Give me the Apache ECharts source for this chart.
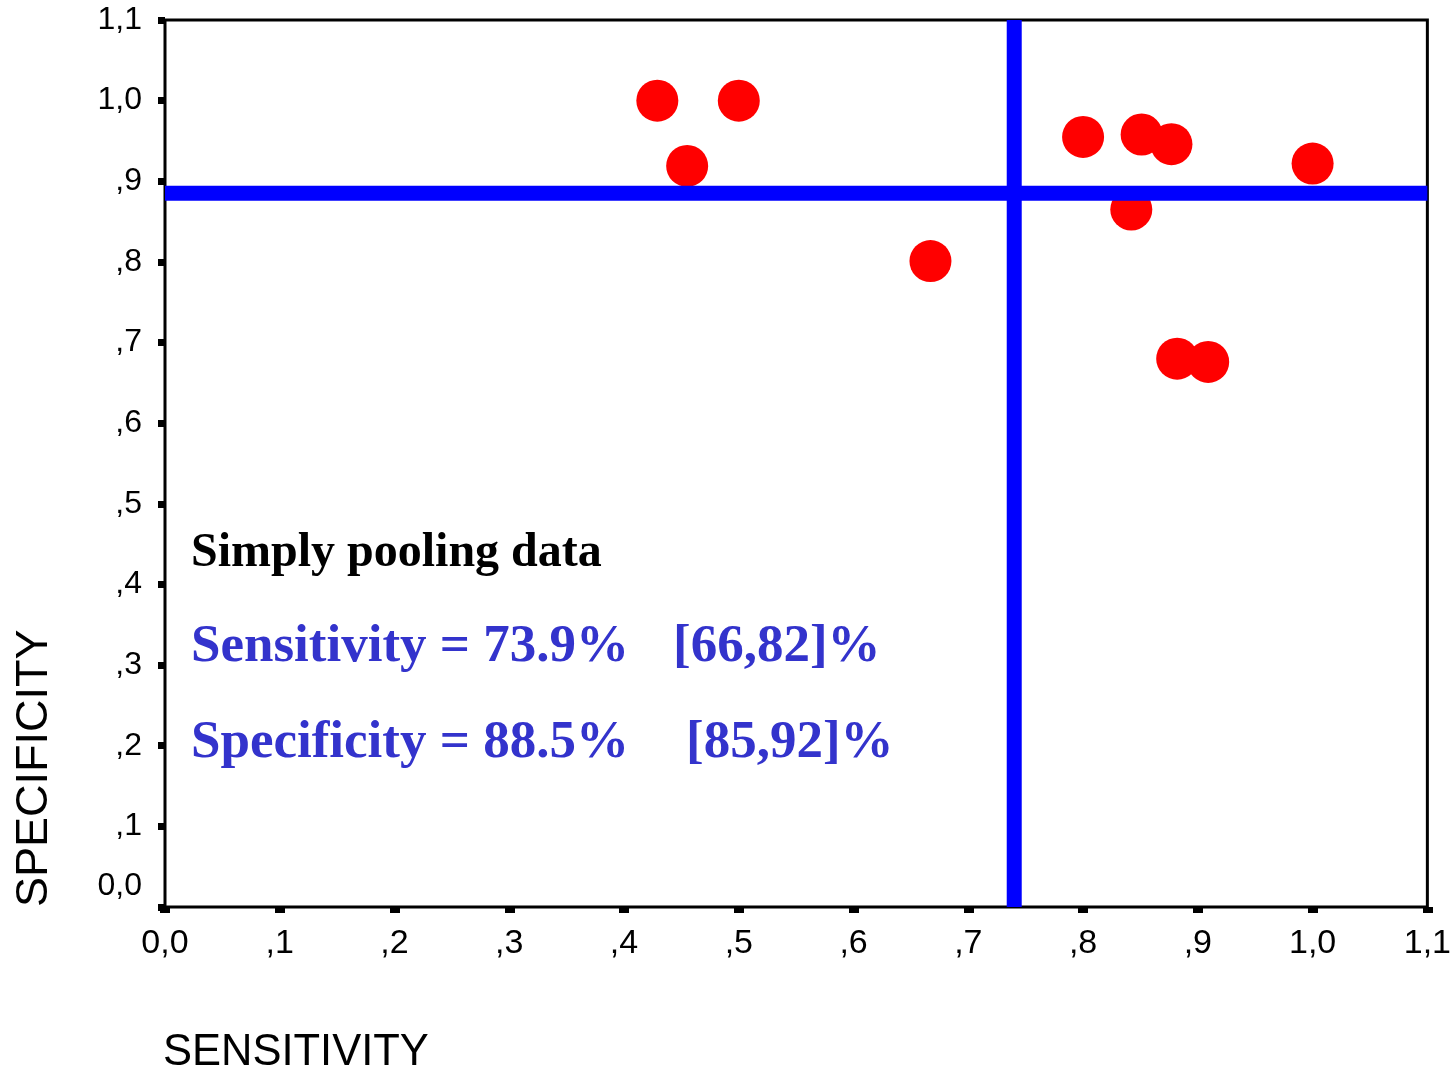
<!DOCTYPE html>
<html>
<head>
<meta charset="utf-8">
<script src="https://cdn.jsdelivr.net/npm/echarts@6/dist/echarts.min.js"></script>
<style>
html,body{margin:0;padding:0;background:#fff;}
#chart{width:1454px;height:1076px;}
</style>
</head>
<body>
<div id="chart"></div>
<script>
// ---- data ----
var sensitivity = [0.429, 0.500, 0.455, 0.667, 0.800, 0.851, 0.877, 0.842, 1.000, 0.882, 0.909];
var specificity = [1.000, 1.000, 0.919, 0.801, 0.955, 0.958, 0.946, 0.865, 0.922, 0.680, 0.676];
var pooledSensitivity = 0.740;
var pooledSpecificity = 0.885;
var tickLabels = ['0,0', ',1', ',2', ',3', ',4', ',5', ',6', ',7', ',8', ',9', '1,0', '1,1'];
var xTitle = 'SENSITIVITY';
var yTitle = 'SPECIFICITY';
var noteTitle = 'Simply pooling data';
var noteSens = 'Sensitivity = 73.9%';
var noteSensCI = '[66,82]%';
var noteSpec = 'Specificity = 88.5%';
var noteSpecCI = '[85,92]%';

var points = sensitivity.map(function (s, i) { return [s, specificity[i]]; });
function tickFmt(v) { return tickLabels[Math.round(v * 10)]; }
function yTickFmt(v) {
  var i = Math.round(v * 10);
  return i === 0 ? '{z|' + tickLabels[i] + '}' : tickLabels[i];
}

var chart = echarts.init(document.getElementById('chart'));
var sans = "'Liberation Sans', Arial, sans-serif";
var serif = "'Liberation Serif', 'Times New Roman', serif";

chart.setOption({
  animation: false,
  backgroundColor: '#fff',
  grid: {
    left: 165, top: 20, right: 23, bottom: 169,
    show: true, borderColor: '#000', borderWidth: 3, backgroundColor: 'transparent'
  },
  xAxis: {
    type: 'value', min: 0, max: 1.1, interval: 0.1,
    offset: 3,
    axisLine: { show: false },
    splitLine: { show: false },
    axisTick: { show: true, length: 6, lineStyle: { color: '#000', width: 10 } },
    axisLabel: { formatter: tickFmt, color: '#000', fontSize: 34, fontFamily: sans, margin: 17, showMaxLabel: true, showMinLabel: true }
  },
  yAxis: {
    type: 'value', min: 0, max: 1.1, interval: 0.1,
    offset: 2,
    axisLine: { show: false },
    splitLine: { show: false },
    axisTick: { show: true, length: 7, lineStyle: { color: '#000', width: 7 } },
    axisLabel: {
      formatter: yTickFmt, color: '#000', fontSize: 32, fontFamily: sans, margin: 21,
      showMaxLabel: true, showMinLabel: true,
      rich: { z: { fontSize: 32, fontFamily: sans, color: '#000', padding: [0, 0, 42, 0] } }
    }
  },
  series: [
    {
      type: 'scatter',
      data: points,
      symbol: 'circle',
      symbolSize: 42,
      itemStyle: { color: '#ff0000', opacity: 1 },
      z: 2,
      silent: true
    },
    {
      type: 'line',
      data: [[pooledSensitivity, 0], [pooledSensitivity, 1.1]],
      showSymbol: false,
      lineStyle: { color: '#0000ff', width: 15 },
      z: 5,
      silent: true
    },
    {
      type: 'line',
      data: [[0, pooledSpecificity], [1.1, pooledSpecificity]],
      showSymbol: false,
      lineStyle: { color: '#0000ff', width: 15 },
      z: 5,
      silent: true
    }
  ],
  graphic: [
    { type: 'text', x: 163, y: 1053, z: 10,
      style: { text: xTitle, fill: '#000', font: '43.5px ' + sans, align: 'left', verticalAlign: 'middle' } },
    { type: 'text', x: 35, y: 907, rotation: Math.PI / 2, z: 10,
      style: { text: yTitle, fill: '#000', font: '45px ' + sans, align: 'left', verticalAlign: 'middle' } },
    { type: 'text', x: 191, y: 554, z: 10,
      style: { text: noteTitle, fill: '#000', font: 'bold 48px ' + serif, align: 'left', verticalAlign: 'middle' } },
    { type: 'text', x: 191, y: 647, z: 10,
      style: { text: noteSens, fill: '#3333cc', font: 'bold 53px ' + serif, align: 'left', verticalAlign: 'middle' } },
    { type: 'text', x: 673, y: 647, z: 10,
      style: { text: noteSensCI, fill: '#3333cc', font: 'bold 53px ' + serif, align: 'left', verticalAlign: 'middle' } },
    { type: 'text', x: 191, y: 743, z: 10,
      style: { text: noteSpec, fill: '#3333cc', font: 'bold 53px ' + serif, align: 'left', verticalAlign: 'middle' } },
    { type: 'text', x: 686, y: 743, z: 10,
      style: { text: noteSpecCI, fill: '#3333cc', font: 'bold 53px ' + serif, align: 'left', verticalAlign: 'middle' } }
  ]
});
</script>
</body>
</html>
